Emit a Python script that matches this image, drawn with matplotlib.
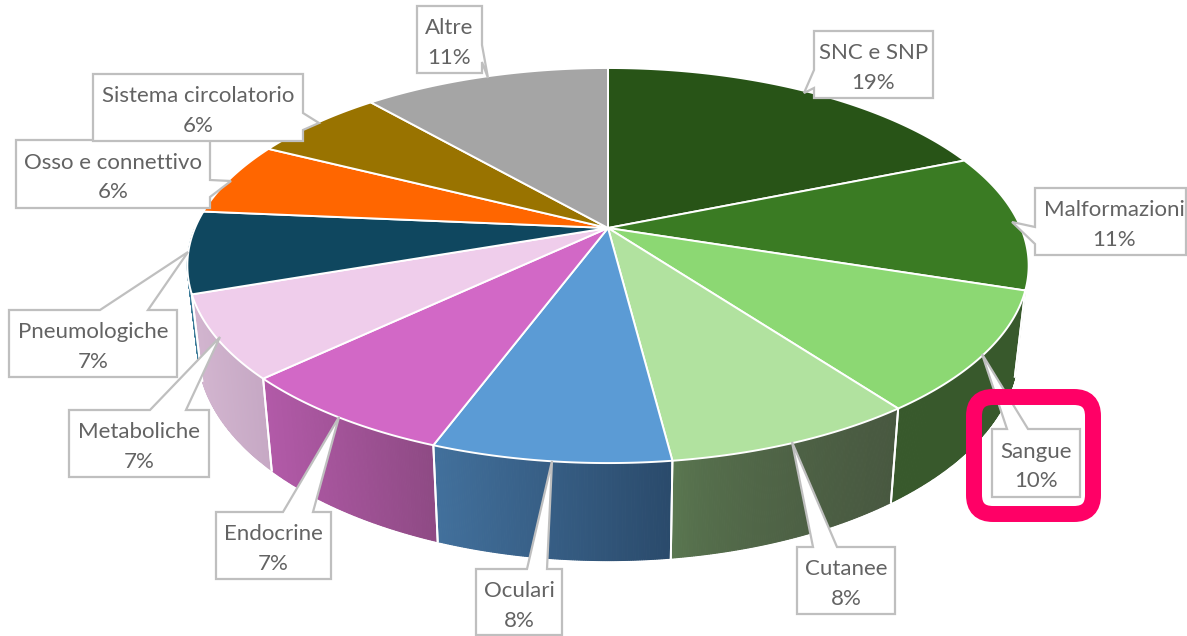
import numpy as np
import matplotlib
matplotlib.use("Agg")
import matplotlib.pyplot as plt
from matplotlib.patches import Polygon, FancyBboxPatch

# ---- data ----
categories = ["SNC e SNP", "Malformazioni", "Sangue", "Cutanee", "Oculari", "Endocrine",
              "Metaboliche", "Pneumologiche", "Osso e connettivo", "Sistema circolatorio", "Altre"]
shares = [18.8, 11.2, 9.85, 8.13, 7.67, 7.28, 6.77, 6.7, 6.05, 6.15, 11.4]
percent_labels = ["19%", "11%", "10%", "8%", "8%", "7%", "7%", "7%", "6%", "6%", "11%"]

# ---- styles ----
top_colors = ["#285417", "#3a7b23", "#8cd873", "#b1e29f", "#5b9bd5", "#d268c6",
              "#efcdeb", "#0f475f", "#ff6600", "#997300", "#a5a5a5"]
side_left = ["#285417", "#ffffff", "#38592c", "#5c7a52", "#42709c", "#b25aa8",
             "#d2b5cf", "#3a7a98", "#ff6600", "#997300", "#a5a5a5"]
side_right = ["#285417", "#ffffff", "#38592c", "#485840", "#2a4a6b", "#8e4a84",
              "#c6a8c4", "#3a7a98", "#ff6600", "#997300", "#a5a5a5"]
side_gamma = [1, 1, 1, 0.55, 1, 1, 1, 1, 1, 1, 1]

# projection of the pie disc
CX, CY = 608, 228
A, B, K = 413, 190.4, 0.19
SX, SY, Y0 = 0.975, 1.066, 310


def top(theta):
    u, v = np.sin(theta), np.cos(theta)
    d = 1 + K * v
    return CX + A * u / d, CY - B * v / d


def bottom(theta):
    x, y = top(theta)
    return CX + SX * (x - CX), Y0 + SY * (y - CY)


def rgb(c):
    return np.array(matplotlib.colors.to_rgb(c))


fig = plt.figure(figsize=(11.87, 6.36), dpi=100)
ax = fig.add_axes([0, 0, 1, 1])
ax.set_xlim(0, 1187)
ax.set_ylim(636, 0)
ax.axis("off")

edges = np.radians(np.concatenate([[0], np.cumsum(shares)]) * 3.6)

# side faces (front half only), lit by a left-to-right gradient; far ones first
order = sorted(range(len(shares)),
               key=lambda i: -abs(0.5 * (edges[i] + edges[i + 1]) - np.pi))
for z, i in enumerate(order):
    a0, a1 = edges[i], edges[i + 1]
    lo, hi = max(a0, np.pi / 2), min(a1, 3 * np.pi / 2)
    if lo >= hi:
        continue
    ts = np.linspace(lo, hi, max(2, int(np.degrees(hi - lo) * 4)))
    xs = top(ts)[0]
    xmin, xmax = xs.min(), xs.max()
    for t0, t1 in zip(ts[:-1], ts[1:]):
        f = (0.5 * (top(t0)[0] + top(t1)[0]) - xmin) / max(xmax - xmin, 1)
        f = f ** side_gamma[i]
        col = rgb(side_left[i]) * (1 - f) + rgb(side_right[i]) * f
        xy = [top(t0), top(t1), bottom(t1), bottom(t0)]
        ax.add_patch(Polygon(xy, closed=True, fc=col, ec=col, lw=0.8, zorder=2 + z * 0.01))
    for t in (a0, a1):
        if np.pi / 2 < t < 3 * np.pi / 2:
            p, q = top(t), bottom(t)
            ax.plot([p[0], q[0]], [p[1], q[1]], color="white", lw=1.4, zorder=3)

# top faces
for i in range(len(shares)):
    ts = np.linspace(edges[i], edges[i + 1], 120)
    x, y = top(ts)
    xy = np.column_stack([np.r_[CX, x], np.r_[CY, y]])
    ax.add_patch(Polygon(xy, closed=True, fc=top_colors[i], ec="white", lw=1.4,
                         joinstyle="round", zorder=4))

# callout boxes: outline including the leader wedge
callouts = {
    "Altre": [(417, 6), (482, 6), (482, 45), (488, 78), (482, 62), (482, 73), (417, 73)],
    "SNC e SNP": [(814, 31), (933, 31), (933, 98), (814, 98), (814, 88), (804, 93), (814, 70)],
    "Malformazioni": [(1035, 188), (1186, 188), (1186, 255), (1035, 255), (1035, 244),
                      (1012, 222), (1035, 227)],
    "Sangue": [(992, 429), (1007, 429), (982, 354), (1028, 429), (1080, 429), (1080, 497), (992, 497)],
    "Cutanee": [(797, 547), (813, 547), (792, 442), (837, 547), (895, 547), (895, 614), (797, 614)],
    "Oculari": [(476, 569), (527, 569), (552, 461), (547, 569), (562, 569), (562, 635), (476, 635)],
    "Endocrine": [(216, 512), (283, 512), (339, 417), (313, 512), (331, 512), (331, 579), (216, 579)],
    "Metaboliche": [(69, 410), (150, 410), (220, 337), (186, 410), (209, 410), (209, 477), (69, 477)],
    "Pneumologiche": [(9, 310), (100, 310), (188, 252), (148, 310), (177, 310), (177, 377), (9, 377)],
    "Osso e connettivo": [(16, 140), (210, 140), (210, 180), (231, 181), (210, 197), (210, 208), (16, 208)],
    "Sistema circolatorio": [(93, 74), (303, 74), (303, 113), (319, 123), (303, 130), (303, 141), (93, 141)],
}
text_box = {
    "Altre": (417, 482, 6, 73), "SNC e SNP": (814, 933, 31, 98),
    "Malformazioni": (1035, 1193, 188, 255), "Sangue": (992, 1080, 429, 497),
    "Cutanee": (797, 895, 547, 614), "Oculari": (476, 562, 569, 636),
    "Endocrine": (216, 331, 512, 579), "Metaboliche": (69, 209, 410, 477),
    "Pneumologiche": (9, 177, 310, 377), "Osso e connettivo": (16, 210, 140, 208),
    "Sistema circolatorio": (93, 303, 74, 141),
}
draw_order = ["Altre", "SNC e SNP", "Malformazioni", "Sangue", "Cutanee", "Oculari", "Endocrine",
              "Metaboliche", "Pneumologiche", "Osso e connettivo", "Sistema circolatorio"]
for z, name in enumerate(draw_order):
    ax.add_patch(Polygon(callouts[name], closed=True, fc="white", ec="#bfbfbf", lw=1.6,
                         joinstyle="miter", zorder=5 + z * 0.01))
    l, r, t, b = text_box[name]
    pct = percent_labels[categories.index(name)]
    ax.text((l + r) / 2, (t + b) / 2 + 3.5, f"{name}\n{pct}", ha="center", va="center", fontsize=16,
            family="Lato", color="#636363", linespacing=1.6, zorder=5 + z * 0.01 + 0.005)

# highlight around "Sangue"
ax.add_patch(FancyBboxPatch((974, 397), 119, 117, boxstyle="round,pad=0,rounding_size=19",
                            fc="none", ec="#ff0066", lw=11.5, zorder=7,
                            mutation_aspect=1))
fig.savefig("out.png", dpi=100)
